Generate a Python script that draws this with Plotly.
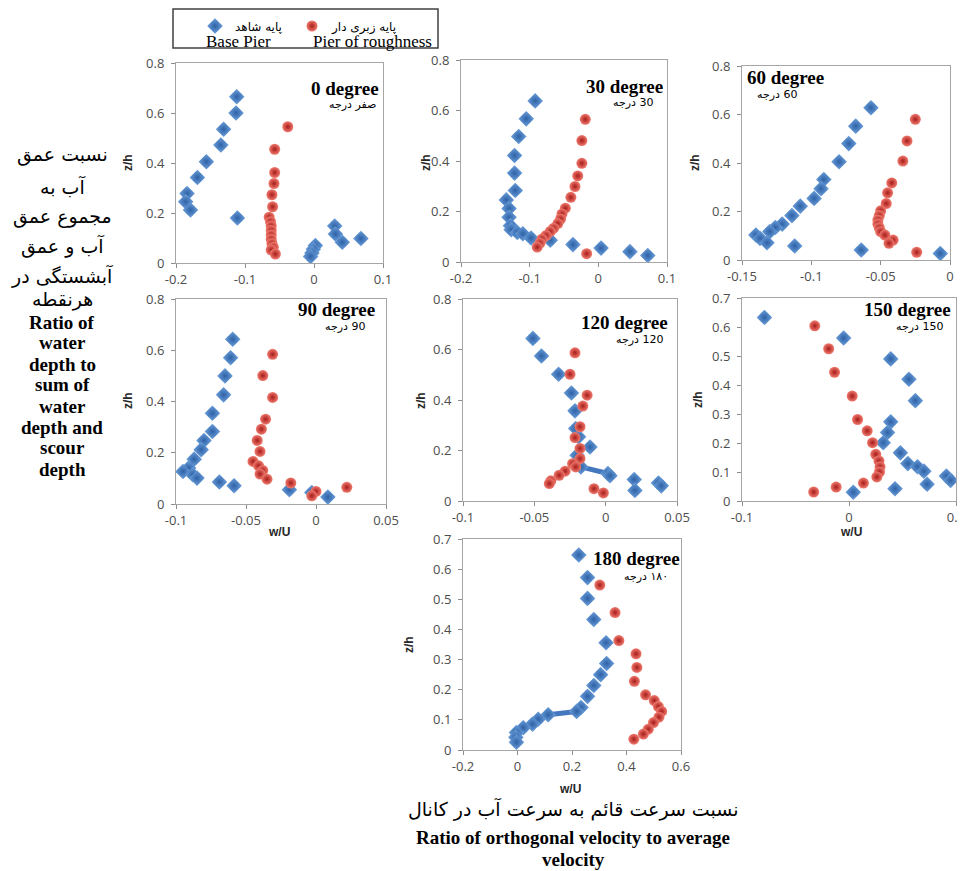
import plotly.graph_objects as go

W, H = 965, 871
OFF = 8  # default page body margin of the written html

# ---------------- data ----------------
# 0 degree
b0_x = [-0.112, -0.113, -0.131, -0.135, -0.156, -0.169, -0.184, -0.186, -0.179, -0.111, 0.030, 0.031, 0.068, 0.041, 0.002, -0.001, -0.003, -0.005]
b0_y = [0.665, 0.600, 0.535, 0.472, 0.405, 0.342, 0.278, 0.245, 0.212, 0.180, 0.148, 0.116, 0.098, 0.083, 0.070, 0.055, 0.040, 0.026]
r0_x = [-0.038, -0.057, -0.057, -0.058, -0.061, -0.060, -0.065, -0.063, -0.062, -0.062, -0.062, -0.062, -0.061, -0.059, -0.062, -0.056]
r0_y = [0.545, 0.455, 0.362, 0.318, 0.273, 0.225, 0.183, 0.165, 0.148, 0.130, 0.112, 0.095, 0.078, 0.063, 0.052, 0.036]
# 30 degree
b30_x = [-0.092, -0.105, -0.116, -0.122, -0.122, -0.121, -0.134, -0.130, -0.130, -0.128, -0.127, -0.118, -0.110, -0.098, -0.070, -0.037, 0.004, 0.046, 0.072]
b30_y = [0.638, 0.567, 0.497, 0.422, 0.352, 0.283, 0.246, 0.212, 0.177, 0.144, 0.128, 0.117, 0.112, 0.095, 0.086, 0.069, 0.055, 0.041, 0.026]
r30_x = [-0.019, -0.024, -0.024, -0.030, -0.034, -0.040, -0.048, -0.053, -0.055, -0.059, -0.065, -0.070, -0.076, -0.082, -0.085, -0.089, -0.017]
r30_y = [0.565, 0.481, 0.391, 0.341, 0.299, 0.256, 0.213, 0.190, 0.170, 0.152, 0.134, 0.121, 0.105, 0.091, 0.075, 0.059, 0.033]
# 60 degree
b60_x = [-0.057, -0.068, -0.073, -0.080, -0.091, -0.093, -0.098, -0.108, -0.114, -0.121, -0.126, -0.130, -0.140, -0.137, -0.132, -0.112, -0.064, -0.007]
b60_y = [0.628, 0.552, 0.480, 0.405, 0.332, 0.294, 0.254, 0.222, 0.183, 0.148, 0.134, 0.117, 0.103, 0.089, 0.071, 0.058, 0.041, 0.027]
r60_x = [-0.025, -0.031, -0.034, -0.042, -0.045, -0.046, -0.050, -0.051, -0.052, -0.052, -0.051, -0.050, -0.047, -0.041, -0.044, -0.024]
r60_y = [0.580, 0.491, 0.408, 0.318, 0.277, 0.233, 0.203, 0.183, 0.165, 0.148, 0.133, 0.117, 0.103, 0.082, 0.069, 0.032]
# 90 degree
b90_x = [-0.0595, -0.061, -0.065, -0.066, -0.074, -0.074, -0.080, -0.082, -0.087, -0.091, -0.095, -0.088, -0.085, -0.069, -0.0585, -0.019, -0.003, 0.0085]
b90_y = [0.643, 0.571, 0.500, 0.426, 0.354, 0.283, 0.248, 0.212, 0.175, 0.140, 0.127, 0.114, 0.101, 0.086, 0.071, 0.056, 0.045, 0.027]
r90_x = [-0.031, -0.038, -0.031, -0.036, -0.039, -0.042, -0.040, -0.045, -0.041, -0.038, -0.040, -0.035, -0.018, 0.000, -0.003, 0.022]
r90_y = [0.584, 0.501, 0.416, 0.331, 0.292, 0.248, 0.205, 0.166, 0.149, 0.131, 0.117, 0.097, 0.082, 0.049, 0.032, 0.065]
# 120 degree
b120_x = [-0.051, -0.045, -0.033, -0.024, -0.0215, -0.021, -0.019, -0.011, -0.020, -0.0174, 0.0016, 0.003, 0.020, 0.0205, 0.037, 0.039]
b120_y = [0.644, 0.574, 0.502, 0.428, 0.357, 0.287, 0.254, 0.214, 0.181, 0.135, 0.109, 0.100, 0.085, 0.042, 0.071, 0.060]
r120_x = [-0.0215, -0.025, -0.013, -0.016, -0.018, -0.0215, -0.018, -0.018, -0.0232, -0.021, -0.0284, -0.0326, -0.0384, -0.0395, -0.0082, -0.0016]
r120_y = [0.587, 0.502, 0.419, 0.376, 0.294, 0.251, 0.208, 0.168, 0.148, 0.135, 0.118, 0.102, 0.080, 0.069, 0.049, 0.032]
# 150 degree
b150_x = [-0.079, -0.005, 0.039, 0.056, 0.062, 0.039, 0.036, 0.032, 0.048, 0.055, 0.064, 0.070, 0.073, 0.091, 0.095, 0.043, 0.004]
b150_y = [0.633, 0.562, 0.490, 0.420, 0.346, 0.273, 0.236, 0.201, 0.166, 0.129, 0.118, 0.103, 0.058, 0.086, 0.071, 0.042, 0.030]
r150_x = [-0.032, -0.019, -0.0135, 0.003, 0.008, 0.017, 0.022, 0.025, 0.028, 0.029, 0.0285, 0.026, 0.0135, -0.012, -0.033]
r150_y = [0.604, 0.525, 0.444, 0.362, 0.281, 0.242, 0.201, 0.161, 0.138, 0.118, 0.100, 0.083, 0.062, 0.048, 0.031]
# 180 degree
b180_x = [0.225, 0.257, 0.257, 0.280, 0.325, 0.327, 0.305, 0.280, 0.257, 0.233, 0.217, 0.1125, 0.076, 0.055, 0.021, -0.004, -0.006, -0.004]
b180_y = [0.647, 0.572, 0.503, 0.433, 0.356, 0.287, 0.250, 0.214, 0.178, 0.141, 0.128, 0.117, 0.102, 0.086, 0.074, 0.058, 0.042, 0.026]
r180_x = [0.302, 0.358, 0.372, 0.435, 0.438, 0.429, 0.470, 0.502, 0.517, 0.529, 0.519, 0.499, 0.480, 0.462, 0.427]
r180_y = [0.547, 0.456, 0.363, 0.319, 0.274, 0.228, 0.183, 0.164, 0.144, 0.128, 0.109, 0.091, 0.069, 0.053, 0.036]

# tick values / labels
x_ticks_a = [-0.2, -0.1, 0, 0.1]
x_text_a = ["-0.2", "-0.1", "0", "0.1"]
x_ticks_b = [-0.15, -0.1, -0.05, 0]
x_text_b = ["-0.15", "-0.1", "-0.05", "0"]
x_ticks_c = [-0.1, -0.05, 0, 0.05]
x_text_c = ["-0.1", "-0.05", "0", "0.05"]
x_ticks_d = [-0.1, 0, 0.1]
x_text_d = ["-0.1", "0", "0.1"]
x_ticks_e = [-0.2, 0, 0.2, 0.4, 0.6]
x_text_e = ["-0.2", "0", "0.2", "0.4", "0.6"]
y_ticks_8 = [0, 0.2, 0.4, 0.6, 0.8]
y_text_8 = ["0", "0.2", "0.4", "0.6", "0.8"]
y_ticks_7 = [0, 0.1, 0.2, 0.3, 0.4, 0.5, 0.6, 0.7]
y_text_7 = ["0", "0.1", "0.2", "0.3", "0.4", "0.5", "0.6", "0.7"]

titles_en = ["0 degree", "30 degree", "60 degree", "90 degree", "120 degree", "150 degree", "180 degree"]
titles_fa = ["صفر درجه", "30 درجه", "60 درجه", "90 درجه", "120 درجه", "150 درجه", "۱۸۰ درجه"]
legend_fa = ["پایه شاهد", "پایه زبری دار"]
legend_en = ["Base Pier", "Pier of roughness"]
left_fa = ["نسبت عمق", "آب به", "مجموع عمق", "آب و عمق", "آبشستگی در", "هرنقطه"]
left_en = ["Ratio of", "water", "depth to", "sum of", "water", "depth and", "scour", "depth"]
bottom_fa = "نسبت سرعت قائم به سرعت آب در کانال"
bottom_en = ["Ratio of orthogonal velocity to average", "velocity"]

# ---------------- layout geometry (pixels) ----------------
panels = [
    dict(bx=b0_x, by=b0_y, rx=r0_x, ry=r0_y, box=(176, 383, 63, 263), xr=(-0.2, 0.1), xt=(x_ticks_a, x_text_a), yr=(0, 0.8), yt=(y_ticks_8, y_text_8),
         t_pos=(381, 88, "right"), f_pos=(378, 105, "right"), zh=(128, 163), wu=None, seg=None),
    dict(bx=b30_x, by=b30_y, rx=r30_x, ry=r30_y, box=(461, 667, 60, 262), xr=(-0.2, 0.1), xt=(x_ticks_a, x_text_a), yr=(0, 0.8), yt=(y_ticks_8, y_text_8),
         t_pos=(665, 86, "right"), f_pos=(655, 103, "right"), zh=(426, 163), wu=None, seg=None),
    dict(bx=b60_x, by=b60_y, rx=r60_x, ry=r60_y, box=(742, 950, 66, 260), xr=(-0.15, 0), xt=(x_ticks_b, x_text_b), yr=(0, 0.8), yt=(y_ticks_8, y_text_8),
         t_pos=(745, 77, "left"), f_pos=(755, 95, "left"), zh=(695, 163), wu=None, seg=None),
    dict(bx=b90_x, by=b90_y, rx=r90_x, ry=r90_y, box=(176, 386, 299, 504), xr=(-0.1, 0.05), xt=(x_ticks_c, x_text_c), yr=(0, 0.8), yt=(y_ticks_8, y_text_8),
         t_pos=(377, 309, "right"), f_pos=(367, 326, "right"), zh=(128, 401), wu=(279, 532), seg=None),
    dict(bx=b120_x, by=b120_y, rx=r120_x, ry=r120_y, box=(463, 677, 299, 501), xr=(-0.1, 0.05), xt=(x_ticks_c, x_text_c), yr=(0, 0.8), yt=(y_ticks_8, y_text_8),
         t_pos=(670, 322, "right"), f_pos=(665, 340, "right"), zh=(421, 401), wu=None, seg=(9, 10)),
    dict(bx=b150_x, by=b150_y, rx=r150_x, ry=r150_y, box=(742, 956, 298, 501), xr=(-0.1, 0.1), xt=(x_ticks_d, x_text_d), yr=(0, 0.7), yt=(y_ticks_7, y_text_7),
         t_pos=(953, 309, "right"), f_pos=(945, 326, "right"), zh=(698, 400), wu=(851, 532), seg=None),
    dict(bx=b180_x, by=b180_y, rx=r180_x, ry=r180_y, box=(463, 681, 539, 750), xr=(-0.2, 0.6), xt=(x_ticks_e, x_text_e), yr=(0, 0.7), yt=(y_ticks_7, y_text_7),
         t_pos=(682, 558, "right"), f_pos=(670, 576, "right"), zh=(409, 645), wu=(570, 789), seg=(10, 11)),
]

BLUE = "#4478BE"
blue_marker = dict(symbol="diamond", size=12, color="#6C9FDB", gradient=dict(type="radial", color="#2E62A6"), line=dict(width=0))
red_marker = dict(symbol="circle", size=11, color="#F07A6E", gradient=dict(type="radial", color="#A81C1A"), line=dict(width=0))

TICKFONT = dict(family="Open Sans", size=13, color="#4D4D4D")
SERIF = "Liberation Serif"
ARABIC = "DejaVu Sans"


def px(x):
    return (x - OFF) / W


def py(y):
    return 1 - (y - OFF) / H


fig = go.Figure()
layout = dict(width=W, height=H, autosize=False, margin=dict(l=0, r=0, t=0, b=0, autoexpand=False),
              plot_bgcolor="white", paper_bgcolor="white", showlegend=True)
annotations = []
shapes = []

for i, p in enumerate(panels):
    s = "" if i == 0 else str(i + 1)
    xa, ya = "x" + s, "y" + s
    if p["seg"] is not None:
        k1, k2 = p["seg"]
        fig.add_trace(go.Scatter(x=[p["bx"][k1], p["bx"][k2]], y=[p["by"][k1], p["by"][k2]], mode="lines",
                                 line=dict(color=BLUE, width=5), xaxis=xa, yaxis=ya, showlegend=False, hoverinfo="skip"))
    fig.add_trace(go.Scatter(x=p["bx"], y=p["by"], mode="markers", marker=blue_marker, xaxis=xa, yaxis=ya,
                             name=legend_fa[0], showlegend=(i == 0), legend="legend"))
    fig.add_trace(go.Scatter(x=p["rx"], y=p["ry"], mode="markers", marker=red_marker, xaxis=xa, yaxis=ya,
                             name=legend_fa[1], showlegend=(i == 0), legend="legend2"))
    x0, x1, y0, y1 = p["box"]
    common = dict(showline=True, mirror=True, linecolor="#A6A6A6", linewidth=1, ticks="outside", ticklen=4,
                  tickcolor="#8C8C8C", showgrid=False, zeroline=False, tickfont=TICKFONT, fixedrange=True, automargin=False)
    layout["xaxis" + s] = dict(domain=[px(x0), px(x1)], range=list(p["xr"]), tickvals=p["xt"][0], ticktext=p["xt"][1],
                               anchor=ya, **common)
    layout["yaxis" + s] = dict(domain=[py(y1), py(y0)], range=list(p["yr"]), tickvals=p["yt"][0], ticktext=p["yt"][1],
                               anchor=xa, ticklabelstandoff=4, **common)
    tx, ty, tanchor = p["t_pos"]
    annotations.append(dict(x=px(tx), y=py(ty), xref="paper", yref="paper", xanchor=tanchor, yanchor="middle",
                            text=f"<b>{titles_en[i]}</b>", showarrow=False, font=dict(family=SERIF, size=19, color="black")))
    fx, fy, fanchor = p["f_pos"]
    annotations.append(dict(x=px(fx), y=py(fy), xref="paper", yref="paper", xanchor=fanchor, yanchor="middle",
                            text="\u202b" + titles_fa[i] + "\u202c", showarrow=False, font=dict(family=ARABIC, size=11, color="black")))
    zx, zy = p["zh"]
    annotations.append(dict(x=px(zx), y=py(zy), xref="paper", yref="paper", xanchor="center", yanchor="middle",
                            text="<b>z/h</b>", textangle=-90, showarrow=False, font=dict(family="Liberation Sans", size=12, color="#262626")))
    if p["wu"] is not None:
        wx, wy = p["wu"]
        annotations.append(dict(x=px(wx), y=py(wy), xref="paper", yref="paper", xanchor="center", yanchor="middle",
                                text="<b>w/U</b>", showarrow=False, font=dict(family="Liberation Sans", size=12, color="#262626")))

# legend frame and English legend lines
shapes.append(dict(type="rect", xref="paper", yref="paper", x0=px(173), x1=px(438), y0=py(48), y1=py(9),
                   line=dict(color="#404040", width=1.5), fillcolor="rgba(0,0,0,0)", layer="above"))
for t, cx in zip(legend_en, [238, 372]):
    annotations.append(dict(x=px(cx), y=py(41), xref="paper", yref="paper", xanchor="center", yanchor="middle",
                            text=t, showarrow=False, font=dict(family=SERIF, size=17, color="black")))

# left side caption
left_fa_y = [155, 186, 216, 246, 276, 300]
for t, yy in zip(left_fa, left_fa_y):
    annotations.append(dict(x=px(62), y=py(yy), xref="paper", yref="paper", xanchor="center", yanchor="middle",
                            text=t, showarrow=False, font=dict(family=ARABIC, size=19, color="black")))
left_en_y = [322, 343, 364, 385, 406, 427, 448, 469]
for t, yy in zip(left_en, left_en_y):
    annotations.append(dict(x=px(62), y=py(yy), xref="paper", yref="paper", xanchor="center", yanchor="middle",
                            text=f"<b>{t}</b>", showarrow=False, font=dict(family=SERIF, size=19, color="black")))

# bottom caption
annotations.append(dict(x=px(573), y=py(809), xref="paper", yref="paper", xanchor="center", yanchor="middle",
                        text=bottom_fa, showarrow=False, font=dict(family=ARABIC, size=19, color="black")))
for t, yy in zip(bottom_en, [837, 859]):
    annotations.append(dict(x=px(573), y=py(yy), xref="paper", yref="paper", xanchor="center", yanchor="middle",
                            text=f"<b>{t}</b>", showarrow=False, font=dict(family=SERIF, size=19, color="black")))

layout["annotations"] = annotations
layout["shapes"] = shapes
leg_common = dict(orientation="h", xanchor="left", yanchor="middle", borderwidth=0, bgcolor="rgba(0,0,0,0)",
                  font=dict(family=ARABIC, size=12, color="black"), itemwidth=30)
layout["legend"] = dict(x=px(195), y=py(26), **leg_common)
layout["legend2"] = dict(x=px(292), y=py(26), **leg_common)
fig.update_layout(**layout)
fig.write_html("out.html")
